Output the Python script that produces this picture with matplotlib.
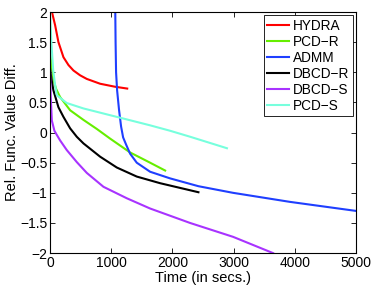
import matplotlib
matplotlib.use("Agg")
import matplotlib.pyplot as plt
from matplotlib.ticker import FuncFormatter

plt.rcParams['font.family'] = ['Liberation Sans', 'DejaVu Sans']

# curves (time in secs, rel. func. value diff.)
hydra_t = [30, 82, 136, 218, 300, 381, 490, 599, 817, 1062, 1260]
hydra_y = [2.0, 1.78, 1.5, 1.25, 1.12, 1.03, 0.95, 0.89, 0.81, 0.76, 0.73]

pcdr_t = [0, 28, 54, 100, 163, 327, 545, 763, 980, 1307, 1634, 1880]
pcdr_y = [1.3, 1.09, 0.87, 0.72, 0.59, 0.37, 0.21, 0.06, -0.1, -0.33, -0.5, -0.63]

admm_t = [1065, 1070, 1078, 1095, 1127, 1160, 1193, 1242, 1307, 1416, 1634,
          1960, 2424, 2990, 3920, 5000]
admm_y = [2.0, 1.5, 1.0, 0.7, 0.37, 0.1, -0.08, -0.2, -0.35, -0.5, -0.65,
          -0.76, -0.89, -1.0, -1.15, -1.3]

dbcdr_t = [0, 20, 54, 136, 218, 327, 436, 545, 817, 1090, 1416, 1797, 2424]
dbcdr_y = [1.05, 0.9, 0.7, 0.42, 0.26, 0.07, -0.07, -0.18, -0.4, -0.58, -0.73, -0.84, -0.99]

dbcds_t = [0, 10, 28, 70, 110, 163, 272, 436, 600, 872, 1253, 1634, 2288, 2990, 3644]
dbcds_y = [1.0, 0.6, 0.2, 0.03, -0.04, -0.13, -0.29, -0.49, -0.67, -0.9, -1.09, -1.26, -1.5, -1.73, -2.0]

pcds_t = [0, 20, 50, 80, 109, 272, 545, 1090, 1634, 1960, 2290, 2890]
pcds_y = [2.0, 1.5, 1.04, 0.8, 0.62, 0.49, 0.4, 0.26, 0.12, 0.03, -0.07, -0.26]

series = [
    ("HYDRA", hydra_t, hydra_y, "#ff0000"),
    ("PCD\u2212R", pcdr_t, pcdr_y, "#66ee00"),
    ("ADMM", admm_t, admm_y, "#1f3fff"),
    ("DBCD\u2212R", dbcdr_t, dbcdr_y, "#000000"),
    ("DBCD\u2212S", dbcds_t, dbcds_y, "#a833ff"),
    ("PCD\u2212S", pcds_t, pcds_y, "#77ffdd"),
]

fig = plt.figure(figsize=(3.74, 2.86), dpi=100)
ax = fig.add_axes([0.134, 0.115, 0.818, 0.843])

for name, t, y, c in series:
    ax.plot(t, y, color=c, lw=1.5, label=name)

ax.set_xlim(0, 5000)
ax.set_ylim(-2, 2)
ax.set_xticks([0, 1000, 2000, 3000, 4000, 5000])
ax.set_yticks([-2, -1.5, -1, -0.5, 0, 0.5, 1, 1.5, 2])
ax.yaxis.set_major_formatter(FuncFormatter(lambda v, p: ('%g' % v).replace('-', '\u2212')))
ax.tick_params(direction='in', length=3.5, width=0.6, top=True, right=True, labelsize=10, pad=2)
for s in ax.spines.values():
    s.set_linewidth(0.8)

ax.set_xlabel("Time (in secs.)", fontsize=10.5, labelpad=0.5)
ax.set_ylabel("Rel. Func. Value Diff.", fontsize=10.5, labelpad=1)

leg = ax.legend(loc='upper right', fontsize=9.8, handlelength=1.6, labelspacing=0.15,
                handletextpad=0.3, borderpad=0.25, borderaxespad=0.25, fancybox=False,
                framealpha=1, edgecolor='black')
leg.get_frame().set_linewidth(0.6)

fig.savefig("out.png", dpi=100)
